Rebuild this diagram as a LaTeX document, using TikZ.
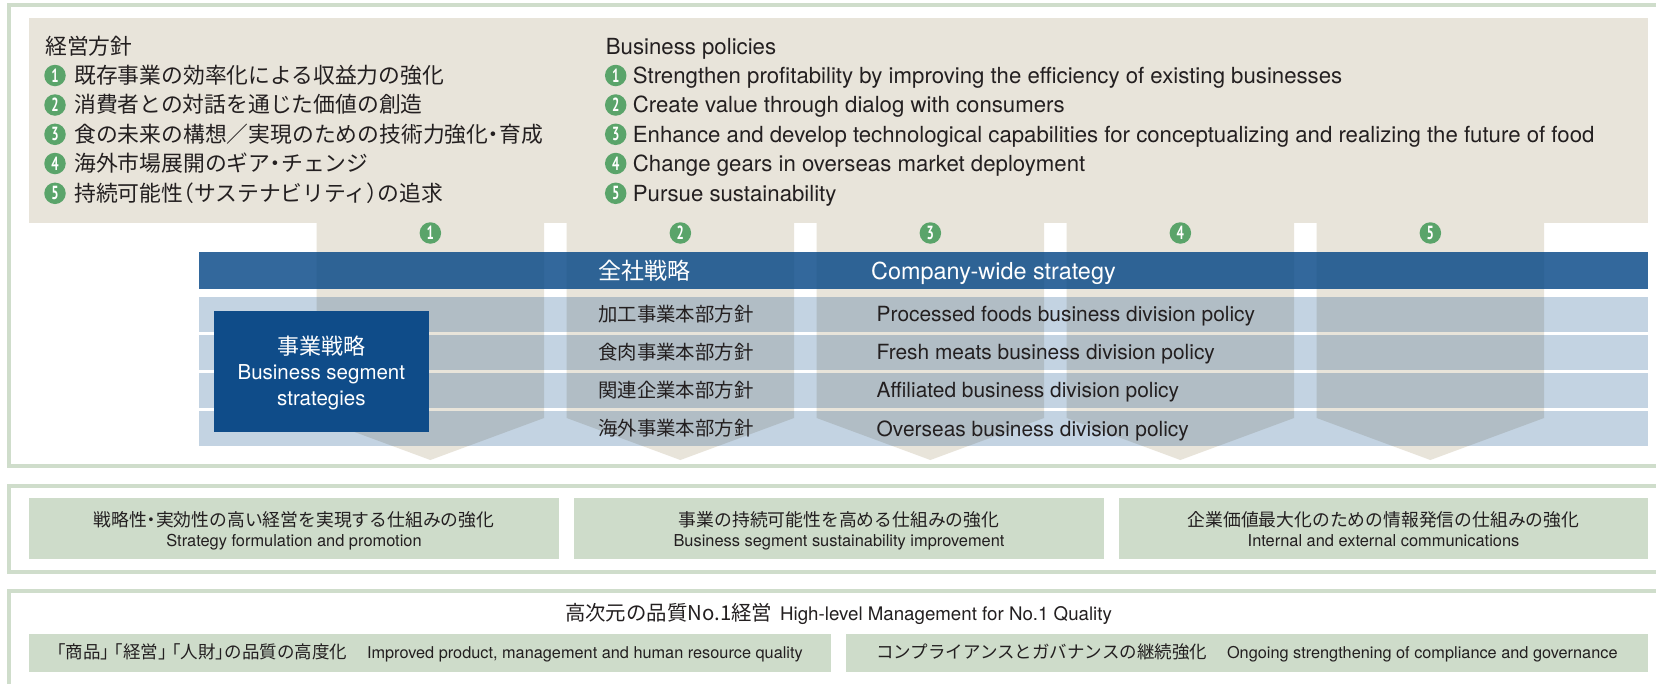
\documentclass[tikz,border=0pt]{standalone}
\usepackage{fontspec}
\setmainfont{TeX Gyre Heros}
\newfontfamily\jp{Noto Sans CJK JP}
\newfontfamily\numfont{PT Sans}
\definecolor{frameg}{HTML}{CFDDCB}
\definecolor{boxg}{HTML}{CEDCCA}
\definecolor{beige}{HTML}{E8E4DA}
\definecolor{bandb}{HTML}{33689C}
\definecolor{bandc}{HTML}{2E6395}
\definecolor{rowb}{HTML}{C3D3E2}
\definecolor{rowc}{HTML}{B1BDC5}
\definecolor{navyb}{HTML}{0F4C89}
\definecolor{numg}{HTML}{5AA46A}
\definecolor{txtc}{HTML}{231F20}
\newcommand\jdot{\kern-0.25em・\kern-0.25em}
\newcommand\jlp{\kern-0.5em（}
\newcommand\jrp{）\kern-0.5em}
\tikzset{
  frame/.style={draw=frameg, line width=4pt},
  tx/.style 2 args={inner sep=0pt, text=txtc, font=#1\fontsize{#2}{#2}\selectfont,
     text height={0.86*#2pt}, text depth={0.14*#2pt}},
  lw/.style={anchor=west},
  numc/.style={circle, fill=numg, text=white, inner sep=0pt, minimum size=21.5pt,
     font=\numfont\bfseries\fontsize{19}{19}\selectfont},
  gbox/.style={fill=boxg},
}
\newcommand\nm[1]{\scalebox{0.68}[1]{#1}}
\begin{document}
\begin{tikzpicture}[x=1pt,y=-1pt]
\clip (0,0) rectangle (1656,683);
\fill[white] (0,0) rectangle (1656,683);
% frames
\draw[frame] (9,5) rectangle (1700,465.5);
\draw[frame] (9,485.5) rectangle (1700,572);
\draw[frame] (9,591) rectangle (1700,720);
% beige policies box and columns
\fill[beige] (28.5,18) rectangle (1648,222.7);
\fill[beige] (316.7,220) -- (316.7,418) -- (430.35,460) -- (544,418) -- (544,220) -- cycle;
\fill[beige] (566.7,220) -- (566.7,418) -- (680.35,460) -- (794,418) -- (794,220) -- cycle;
\fill[beige] (816.7,220) -- (816.7,418) -- (930.35,460) -- (1044,418) -- (1044,220) -- cycle;
\fill[beige] (1066.7,220) -- (1066.7,418) -- (1180.35,460) -- (1294,418) -- (1294,220) -- cycle;
\fill[beige] (1316.7,220) -- (1316.7,418) -- (1430.35,460) -- (1544,418) -- (1544,220) -- cycle;
% band and rows
\fill[bandb] (199,252.3) rectangle (1648,289.3);
\foreach \yy in {297,335.05,373.1,411.15} {\fill[rowb] (199,\yy) rectangle (1648,\yy+34.7);}
\begin{scope}
\clip (316.7,220) -- (316.7,418) -- (430.35,460) -- (544,418) -- (544,220) -- cycle
      (566.7,220) -- (566.7,418) -- (680.35,460) -- (794,418) -- (794,220) -- cycle
      (816.7,220) -- (816.7,418) -- (930.35,460) -- (1044,418) -- (1044,220) -- cycle
      (1066.7,220) -- (1066.7,418) -- (1180.35,460) -- (1294,418) -- (1294,220) -- cycle
      (1316.7,220) -- (1316.7,418) -- (1430.35,460) -- (1544,418) -- (1544,220) -- cycle;
\fill[bandc] (199,252.3) rectangle (1648,289.3);
\foreach \yy in {297,335.05,373.1,411.15} {\fill[rowc] (199,\yy) rectangle (1648,\yy+34.7);}
\end{scope}
% column numbers
\node[numc] (k1) at (430.35,233) {\nm{1}};
\node[numc] (k2) at (680.35,233) {\nm{2}};
\node[numc] (k3) at (930.35,233) {\nm{3}};
\node[numc] (k4) at (1180.35,233) {\nm{4}};
\node[numc] (k5) at (1430.35,233) {\nm{5}};
% Japanese policies
\node[tx={\jp}{21.8}, lw] (jt) at (45,46.5) {経営方針};
\node[numc] (jb1) at (55,75.5) {\nm{1}};
\node[numc] (jb2) at (55,105) {\nm{2}};
\node[numc] (jb3) at (55,134.3) {\nm{3}};
\node[numc] (jb4) at (55,163.5) {\nm{4}};
\node[numc] (jb5) at (55,193.3) {\nm{5}};
\node[tx={\jp}{21.8}, lw] (j1) at (74,75.5) {既存事業の効率化による収益力の強化};
\node[tx={\jp}{21.8}, lw] (j2) at (74,105) {消費者との対話を通じた価値の創造};
\node[tx={\jp}{21.8}, lw] (j3) at (74,134.3) {食の未来の構想／実現のための技術力強化\jdot 育成};
\node[tx={\jp}{21.8}, lw] (j4) at (74,163.5) {海外市場展開のギア\jdot チェンジ};
\node[tx={\jp}{21.8}, lw] (j5) at (74,193.3) {持続可能性\jlp サステナビリティ\jrp の追求};
% English policies
\node[tx={}{22.2}, lw] (et) at (605.7,46.5) {Business policies};
\node[numc] (eb1) at (615.7,75.5) {\nm{1}};
\node[numc] (eb2) at (615.7,105) {\nm{2}};
\node[numc] (eb3) at (615.7,134.3) {\nm{3}};
\node[numc] (eb4) at (615.7,163.5) {\nm{4}};
\node[numc] (eb5) at (615.7,193.3) {\nm{5}};
\node[tx={}{22.2}, lw] (e1) at (632.7,75.5) {Strengthen profitability by improving the efficiency of existing businesses};
\node[tx={}{22.2}, lw] (e2) at (632.7,105) {Create value through dialog with consumers};
\node[tx={}{22.2}, lw] (e3) at (632.7,134.3) {Enhance and develop technological capabilities for conceptualizing and realizing the future of food};
\node[tx={}{22.2}, lw] (e4) at (632.7,163.5) {Change gears in overseas market deployment};
\node[tx={}{22.2}, lw] (e5) at (632.7,193.3) {Pursue sustainability};
% band texts
\node[tx={\jp}{23}, lw, text=white] (bj) at (598,270.8) {全社戦略};
\node[tx={}{23.4}, lw, text=white] (be) at (871,270.8) {Company-wide strategy};
% row texts
\node[tx={\jp}{19.4}, lw] (r1j) at (598,314.35) {加工事業本部方針};
\node[tx={\jp}{19.4}, lw] (r2j) at (598,352.4) {食肉事業本部方針};
\node[tx={\jp}{19.4}, lw] (r3j) at (598,390.45) {関連企業本部方針};
\node[tx={\jp}{19.4}, lw] (r4j) at (598,428.5) {海外事業本部方針};
\node[tx={}{20.9}, lw] (r1e) at (876.5,314.35) {Processed foods business division policy};
\node[tx={}{20.9}, lw] (r2e) at (876.5,352.4) {Fresh meats business division policy};
\node[tx={}{20.9}, lw] (r3e) at (876.5,390.45) {Affiliated business division policy};
\node[tx={}{20.9}, lw] (r4e) at (876.5,428.5) {Overseas business division policy};
% navy box
\node[fill=navyb, minimum width=214.7pt, minimum height=120.7pt, inner sep=0pt] (seg) at (321.35,371.35) {};
\node[tx={\jp}{22}, text=white] (sj) at (321.35,346.7) {事業戦略};
\node[tx={}{20.5}, text=white] (se1) at (321.35,372.3) {Business segment};
\node[tx={}{20.5}, text=white] (se2) at (321.35,398.3) {strategies};
% middle green boxes
\fill[gbox] (29,498.3) rectangle (559,558.7);
\fill[gbox] (574,498.3) rectangle (1104,558.7);
\fill[gbox] (1119,498.3) rectangle (1648,558.7);
\node[tx={\jp}{17.8}] (m1j) at (294,520) {戦略性\jdot 実効性の高い経営を実現する仕組みの強化};
\node[tx={}{16.4}] (m1e) at (294,541) {Strategy formulation and promotion};
\node[tx={\jp}{17.8}] (m2j) at (839,520) {事業の持続可能性を高める仕組みの強化};
\node[tx={}{16.4}] (m2e) at (839,541) {Business segment sustainability improvement};
\node[tx={\jp}{17.8}] (m3j) at (1383.5,520) {企業価値最大化のための情報発信の仕組みの強化};
\node[tx={}{16.4}] (m3e) at (1383.5,541) {Internal and external communications};
% bottom section
\node[tx={}{18.7}] (qt) at (838.5,614) {{\jp\fontsize{20.4}{20.4}\selectfont 高次元の品質No.1経営}\hspace{8pt}High-level Management for No.1 Quality};
\fill[gbox] (29,634.3) rectangle (831,671.7);
\fill[gbox] (846,634.3) rectangle (1648,671.7);
\node[tx={}{16.3}] (q1) at (430,653) {{\jp\fontsize{17.5}{17.5}\selectfont \kern-0.5em「商品」\kern-0.72em「経営」\kern-0.72em「人財」\kern-0.5em の品質の高度化}\hspace{20pt}Improved product, management and human resource quality};
\node[tx={}{16.3}] (q2) at (1247,653) {{\jp\fontsize{17.5}{17.5}\selectfont コンプライアンスとガバナンスの継続強化}\hspace{20pt}Ongoing strengthening of compliance and governance};
\end{tikzpicture}
\end{document}
